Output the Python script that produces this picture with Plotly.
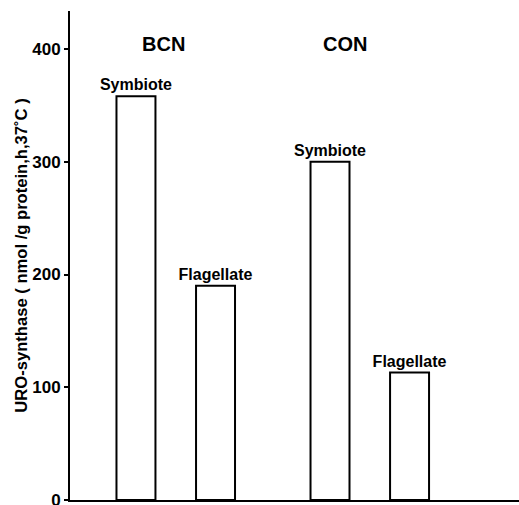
import plotly.graph_objects as go

groups = ["BCN", "CON"]
symbiote = [358, 300]
flagellate = [190, 113]
series_names = ["Symbiote", "Flagellate"]
y_ticks = [0, 100, 200, 300, 400]
y_title = "URO-synthase ( nmol /g protein,h,37\u02daC )"

FONT = "Liberation Sans"

def f(size):
    return dict(family=FONT, size=size, color="black", weight="bold")

fig = go.Figure()
for name, vals in zip(series_names, [symbiote, flagellate]):
    fig.add_trace(go.Bar(
        x=groups, y=vals, name=name,
        marker=dict(color="white", line=dict(color="black", width=2)),
        text=[name] * len(vals), textposition="outside", constraintext="none",
        textfont=f(16),
        cliponaxis=False,
    ))

for g, shift in zip(groups, [-12, -25]):
    fig.add_annotation(x=g, y=1 - (44 - 11) / 489.0, xref="x", yref="paper",
                       yanchor="middle", text=g, showarrow=False, xshift=shift,
                       font=f(20))

fig.update_layout(
    width=519, height=505, autosize=False,
    margin=dict(l=70, r=0, t=11, b=5),
    paper_bgcolor="white", plot_bgcolor="white",
    barmode="group", bargap=0.18, bargroupgap=0.51,
    showlegend=False,
    font=dict(family=FONT, color="black"),
)

fig.update_xaxes(range=[-0.545, 1.769], showticklabels=False, ticks="",
                 showline=True, linecolor="black", linewidth=2, automargin=False,
                 showgrid=False, zeroline=False)
fig.update_yaxes(range=[0, 433.7], tickvals=y_ticks, ticks="outside", ticklen=4,
                 tickwidth=2, tickcolor="black", ticklabeloverflow="allow",
                 showline=True, linecolor="black", linewidth=2, automargin=False,
                 showgrid=False, zeroline=False,
                 tickfont=f(17),
                 title=dict(text=y_title, font=f(16.6), standoff=0))

fig.write_html("out.html")
